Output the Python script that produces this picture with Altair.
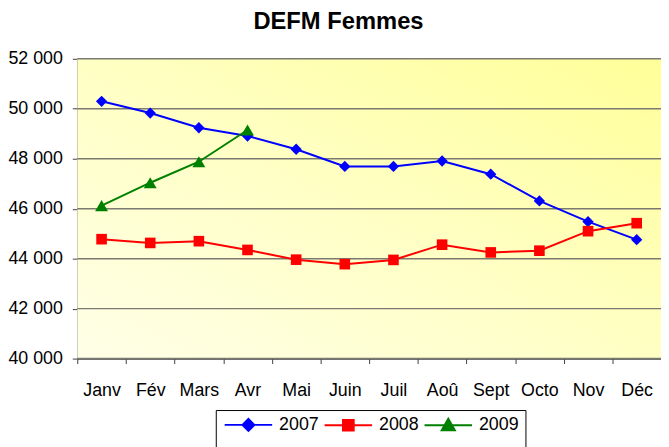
import altair as alt
import pandas as pd

months = ["Janv", "Fév", "Mars", "Avr", "Mai", "Juin", "Juil", "Aoû", "Sept", "Octo", "Nov", "Déc"]
years = ["2007", "2008", "2009"]
v2007 = [50300, 49830, 49240, 48910, 48380, 47690, 47690, 47910, 47380, 46310, 45480, 44760]
v2008 = [44780, 44630, 44700, 44350, 43960, 43780, 43950, 44560, 44250, 44320, 45100, 45420]
v2009 = [46120, 47040, 47880, 49150]
y_ticks = [40000, 42000, 44000, 46000, 48000, 50000, 52000]
colors = ["#0000FF", "#FF0000", "#008000"]
shapes = ["diamond", "square", "triangle-up"]
sizes = [130, 115, 170]
legend_paths = [
    "M-1,0L7,0M2,0L3,-1L4,0L3,1Z",
    "M-1,0L7,0M2.1,-0.88L3.9,-0.88L3.9,0.88L2.1,0.88Z",
    "M-1,0L7,0M3,-1.1L4.1,0.85L1.9,0.85Z",
]

rows = []
for yr, vals in zip(years, [v2007, v2008, v2009]):
    for m, v in zip(months, vals):
        rows.append({"mois": m, "annee": yr, "valeur": v, "serie": yr})
df = pd.DataFrame(rows)
grid_df = pd.DataFrame({"valeur": y_ticks})

W, H = 590, 303
FONT = "Liberation Sans, Arial, sans-serif"

x_enc = alt.X(
    "mois:N",
    sort=months,
    scale=alt.Scale(type="band", domain=months, paddingInner=0, paddingOuter=0),
    axis=alt.Axis(
        title=None, labelAngle=0, tickBand="extent", grid=False,
        domainColor="#404040", domainWidth=1.5, tickColor="#404040", tickWidth=1,
        tickSize=5, labelPadding=18, labelFont=FONT, labelFontSize=18, labelColor="black",
    ),
)
y_scale = alt.Scale(domain=[40000, 52000], nice=False, zero=False)
y_axis = alt.Axis(
    title=None, values=y_ticks, grid=False,
    labelExpr="replace(format(datum.value, ','), ',', ' ')",
    domainColor="#404040", domainWidth=1.5, tickColor="#404040", tickWidth=1,
    tickSize=5, labelPadding=10, labelFont=FONT, labelFontSize=18, labelColor="black",
)
y_enc = alt.Y("valeur:Q", scale=y_scale, axis=y_axis)
# colour scale domain comes from the data (sorted 2007, 2008, 2009)
color_enc = alt.Color("annee:N", scale=alt.Scale(range=colors), legend=None)

bg = alt.Chart(alt.Data(values=[{}])).mark_rect(
    color=alt.LinearGradient(
        gradient="linear", x1=0, y1=1, x2=1, y2=0,
        stops=[
            alt.GradientStop(offset=0, color="#FFFFE8"),
            alt.GradientStop(offset=0.5, color="#FFFFC4"),
            alt.GradientStop(offset=1, color="#FFFF99"),
        ],
    )
).encode(x=alt.value(0), x2=alt.value(W), y=alt.value(0), y2=alt.value(H))

grid = alt.Chart(grid_df).mark_rule(color="#7a7a70", strokeWidth=1.5).encode(
    y=alt.Y("valeur:Q", scale=y_scale, axis=y_axis)
)

base = alt.Chart(df)
lines = base.mark_line(strokeWidth=2).encode(x=x_enc, y=y_enc, color=color_enc, detail="annee:N")

points = []
for yr, sh, sz in zip(years, shapes, sizes):
    points.append(
        base.transform_filter(alt.datum.annee == yr)
        .mark_point(shape=sh, filled=True, size=sz, opacity=1)
        .encode(x=x_enc, y=y_enc, color=color_enc)
    )

leg_props = dict(
    orient="none", legendX=140, legendY=355, direction="horizontal",
    title=" ", titleOrient="bottom", titleFontSize=18, titlePadding=4,
    symbolSize=144, symbolStrokeWidth=2, labelOffset=40, columnPadding=1,
    padding=6, strokeColor="black", fillColor="white", cornerRadius=0,
    labelFont=FONT, labelFontSize=18, labelColor="black",
)
leg = alt.Chart(df).transform_filter("false").mark_point(filled=True, size=144, strokeWidth=2, opacity=1).encode(
    fill=alt.Fill("serie:N", scale=alt.Scale(domain=years, range=colors), legend=alt.Legend(**leg_props)),
    stroke=alt.Stroke("serie:N", scale=alt.Scale(domain=years, range=colors), legend=alt.Legend(**leg_props)),
    shape=alt.Shape("serie:N", scale=alt.Scale(domain=years, range=legend_paths), legend=alt.Legend(**leg_props)),
)

chart = alt.layer(bg, grid, lines, *points, leg).properties(
    width=W,
    height=H,
    autosize=alt.AutoSizeParams(type="none"),
    padding={"left": 70, "top": 49, "right": 0, "bottom": 87},
    title=alt.TitleParams(
        "DEFM Femmes", font=FONT, fontSize=24, fontWeight="bold", color="black",
        anchor="middle", dx=-31, offset=16,
    ),
).configure_view(strokeWidth=0)

chart.save("out.html", embed_options={"renderer": "svg", "actions": False})
